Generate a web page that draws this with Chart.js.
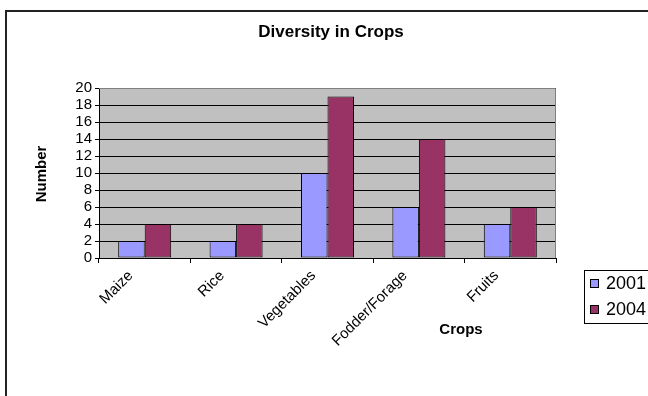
<!DOCTYPE html>
<html>
<head>
<meta charset="utf-8">
<script src="https://cdn.jsdelivr.net/npm/chart.js@4.4.1/dist/chart.umd.min.js"></script>
<style>
  html, body { margin: 0; padding: 0; background: #fff; overflow: hidden; }
  #frame { position: absolute; left: 5px; top: 10px; width: 720px; height: 460px;
           border-left: 2px solid #222; border-top: 2px solid #222; }
  #wrap { position: absolute; left: 0; top: 0; width: 648px; height: 396px; }
</style>
</head>
<body>
<div id="frame"></div>
<div id="wrap"><canvas id="c" width="648" height="396"></canvas></div>
<script>
// Crop diversity counts per survey year
const categories = ['Maize', 'Rice', 'Vegetables', 'Fodder/Forage', 'Fruits'];
const seriesNames = ['2001', '2004'];
const values2001 = [2, 2, 10, 6, 4];
const values2004 = [4, 4, 19, 14, 6];
const yTicks = [0, 2, 4, 6, 8, 10, 12, 14, 16, 18, 20];

const FONT = '"Liberation Sans", Arial, sans-serif';

// Grey plot area, outline, titles and the boxed legend
const decor = {
  id: 'decor',
  beforeDraw(chart) {
    const { ctx, chartArea: a } = chart;
    ctx.save();
    ctx.fillStyle = '#C0C0C0';
    ctx.fillRect(a.left, a.top, a.right - a.left, a.bottom - a.top);
    ctx.restore();
  },
  beforeDatasetsDraw(chart) {
    const { ctx, chartArea: a } = chart;
    ctx.save();
    ctx.strokeStyle = '#808080';
    ctx.lineWidth = 1;
    ctx.beginPath();
    ctx.moveTo(a.left, a.top + 0.5);
    ctx.lineTo(a.right - 0.5, a.top + 0.5);
    ctx.lineTo(a.right - 0.5, a.bottom);
    ctx.stroke();
    ctx.restore();
  },
  afterDraw(chart) {
    const { ctx } = chart;
    ctx.save();
    ctx.fillStyle = '#000';
    ctx.textAlign = 'center';
    ctx.textBaseline = 'middle';
    ctx.font = 'bold 17px ' + FONT;
    ctx.fillText('Diversity in Crops', 331, 32);

    ctx.font = 'bold 15px ' + FONT;
    ctx.fillText('Crops', 461, 330);

    ctx.save();
    ctx.translate(42, 174);
    ctx.rotate(-Math.PI / 2);
    ctx.fillText('Number', 0, 0);
    ctx.restore();

    // legend
    const lx = 584, ly = 270, lh = 53;
    ctx.strokeStyle = '#000';
    ctx.lineWidth = 1;
    ctx.strokeRect(lx + 0.5, ly + 0.5, 100, lh);
    ctx.font = '18px ' + FONT;
    ctx.textAlign = 'left';
    chart.data.datasets.forEach((ds, i) => {
      const cy = ly + 14 + i * 26;
      ctx.fillStyle = ds.backgroundColor;
      ctx.fillRect(590.5, cy - 4.5, 8, 8);
      ctx.strokeStyle = '#000';
      ctx.strokeRect(590.5, cy - 4.5, 8, 8);
      ctx.fillStyle = '#000';
      ctx.fillText(ds.label, 606, cy);
    });
    ctx.restore();
  }
};

new Chart(document.getElementById('c'), {
  type: 'bar',
  data: {
    labels: categories,
    datasets: [
      { label: seriesNames[0], data: values2001, backgroundColor: '#9999FF' },
      { label: seriesNames[1], data: values2004, backgroundColor: '#993366' }
    ]
  },
  options: {
    responsive: false,
    animation: false,
    devicePixelRatio: 1,
    layout: { padding: { left: 0, top: 88, right: 92, bottom: 0 } },
    datasets: {
      bar: {
        borderColor: '#000',
        borderWidth: 1,
        borderSkipped: false,
        categoryPercentage: 0.58,
        barPercentage: 1.0
      }
    },
    plugins: { legend: { display: false }, title: { display: false }, tooltip: { enabled: false } },
    scales: {
      x: {
        offset: true,
        grid: { drawOnChartArea: false, drawTicks: true, tickLength: 5, color: '#000', offset: true },
        border: { color: '#000', width: 1 },
        ticks: { color: '#000', font: { family: FONT, size: 15 }, minRotation: 45, maxRotation: 45,
                 padding: 4, labelOffset: -14, autoSkip: false },
        afterFit(scale) { scale.height = 138; }
      },
      y: {
        min: 0,
        max: 20,
        afterBuildTicks(scale) { scale.ticks = yTicks.map(v => ({ value: v })); },
        grid: { color: '#000', lineWidth: 1, tickLength: 4, drawTicks: true },
        border: { color: '#000', width: 1 },
        ticks: { color: '#000', font: { family: FONT, size: 15 }, padding: 3, autoSkip: false },
        afterFit(scale) { scale.width = 99; }
      }
    }
  },
  plugins: [decor]
});
</script>
</body>
</html>
